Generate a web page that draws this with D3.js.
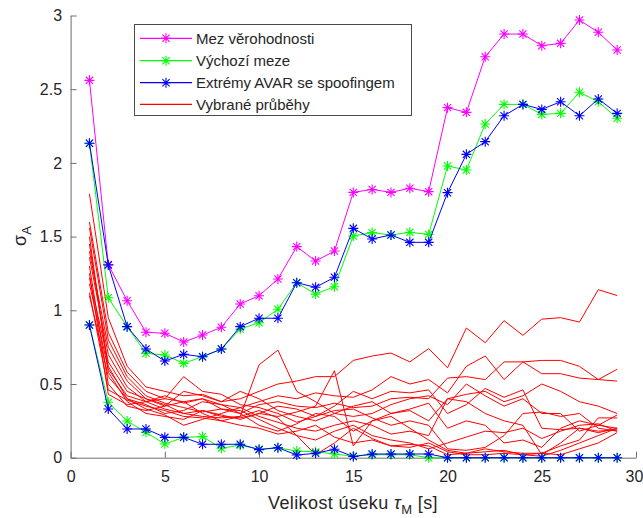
<!DOCTYPE html>
<html>
<head>
<meta charset="utf-8">
<script src="https://cdn.jsdelivr.net/npm/d3@7"></script>
<style>
  html, body { margin: 0; padding: 0; background: #fff; }
  svg { display: block; font-family: "Liberation Sans", Arial, Helvetica, sans-serif; }
</style>
</head>
<body>
<svg id="chart" width="643" height="518"></svg>
<script>
// Segment length tau_M [s]
const segLen = d3.range(1, 30);

// Likelihood bound (magenta)
const likelihoodBound = [2.56, 1.31, 1.065, 0.851, 0.844, 0.785, 0.832, 0.885, 1.043, 1.099,
  1.212, 1.432, 1.334, 1.402, 1.80, 1.82, 1.80, 1.828, 1.805, 2.375,
  2.343, 2.72, 2.874, 2.874, 2.795, 2.811, 2.969, 2.886, 2.766];

// Default bounds (green), upper and lower
const defaultUpper = [2.133, 1.085, 0.889, 0.708, 0.697, 0.640, 0.685, 0.737, 0.873, 0.916,
  1.007, 1.187, 1.11, 1.16, 1.504, 1.527, 1.511, 1.529, 1.515, 1.979,
  1.952, 2.264, 2.397, 2.397, 2.329, 2.336, 2.479, 2.415, 2.303];
const defaultLower = [0.90, 0.376, 0.249, 0.172, 0.093, 0.138, 0.143, 0.064, 0.085, 0.057,
  0.068, 0.045, 0.04, 0.025, 0.01, 0.02, 0.02, 0.02, 0.0, 0.0,
  0.0, 0.0, 0.0, 0.0, 0.0, 0.0, 0.0, 0.0, 0.0];

// AVAR extremes with spoofing (blue), upper and lower
const spoofUpper = [2.133, 1.307, 0.889, 0.737, 0.656, 0.701, 0.685, 0.737, 0.889, 0.946,
  0.946, 1.187, 1.156, 1.224, 1.556, 1.484, 1.511, 1.461, 1.461, 1.798,
  2.058, 2.144, 2.32, 2.397, 2.363, 2.415, 2.32, 2.434, 2.336];
const spoofLower = [0.90, 0.33, 0.195, 0.195, 0.138, 0.138, 0.091, 0.091, 0.091, 0.055,
  0.068, 0.018, 0.03, 0.057, 0.008, 0.025, 0.025, 0.025, 0.025, 0.0,
  0.0, 0.0, 0.0, 0.0, 0.0, 0.0, 0.0, 0.0, 0.0];

// Selected individual runs (red)
const selectedRuns = [
  [1.79, 0.95, 0.62, 0.48, 0.45, 0.42, 0.43, 0.38, 0.40, 0.45, 0.50, 0.52, 0.55, 0.55, 0.66, 0.69, 0.71, 0.65, 0.74, 0.61, 0.88, 0.78, 0.93, 0.83, 0.94, 0.95, 0.92, 1.14, 1.10],
  [1.60, 0.85, 0.58, 0.45, 0.40, 0.38, 0.40, 0.36, 0.34, 0.38, 0.42, 0.40, 0.44, 0.42, 0.41, 0.46, 0.55, 0.50, 0.53, 0.44, 0.62, 0.69, 0.53, 0.65, 0.66, 0.66, 0.62, 0.53, 0.60],
  [1.56, 0.80, 0.55, 0.42, 0.37, 0.34, 0.31, 0.33, 0.30, 0.36, 0.38, 0.35, 0.34, 0.37, 0.34, 0.35, 0.40, 0.41, 0.40, 0.54, 0.55, 0.53, 0.65, 0.65, 0.57, 0.57, 0.54, 0.53, 0.52],
  [1.40, 0.75, 0.52, 0.40, 0.36, 0.30, 0.28, 0.27, 0.28, 0.63, 0.73, 0.45, 0.38, 0.30, 0.35, 0.38, 0.30, 0.33, 0.37, 0.20, 0.25, 0.22, 0.10, 0.12, 0.07, 0.20, 0.25, 0.22, 0.20],
  [1.36, 0.70, 0.48, 0.38, 0.33, 0.30, 0.32, 0.29, 0.26, 0.30, 0.28, 0.31, 0.35, 0.59, 0.08, 0.25, 0.28, 0.20, 0.12, 0.05, 0.03, 0.04, 0.05, 0.02, 0.01, 0.05, 0.10, 0.15, 0.20],
  [1.22, 0.65, 0.45, 0.40, 0.35, 0.45, 0.42, 0.38, 0.45, 0.40, 0.32, 0.28, 0.25, 0.30, 0.28, 0.30, 0.36, 0.40, 0.42, 0.36, 0.50, 0.42, 0.35, 0.40, 0.30, 0.30, 0.18, 0.22, 0.29],
  [1.18, 0.60, 0.42, 0.38, 0.40, 0.55, 0.45, 0.43, 0.36, 0.34, 0.30, 0.24, 0.28, 0.35, 0.45, 0.40, 0.45, 0.44, 0.46, 0.30, 0.36, 0.47, 0.41, 0.46, 0.20, 0.19, 0.20, 0.18, 0.19],
  [1.10, 0.55, 0.40, 0.36, 0.30, 0.32, 0.38, 0.36, 0.30, 0.22, 0.18, 0.23, 0.30, 0.28, 0.18, 0.25, 0.30, 0.32, 0.25, 0.40, 0.43, 0.45, 0.38, 0.42, 0.50, 0.45, 0.38, 0.35, 0.30],
  [1.50, 0.58, 0.38, 0.30, 0.28, 0.26, 0.32, 0.28, 0.27, 0.30, 0.35, 0.33, 0.28, 0.32, 0.33, 0.27, 0.22, 0.25, 0.22, 0.06, 0.05, 0.07, 0.15, 0.30, 0.31, 0.28, 0.30, 0.20, 0.18],
  [1.45, 0.62, 0.40, 0.33, 0.29, 0.22, 0.26, 0.30, 0.34, 0.28, 0.24, 0.20, 0.18, 0.22, 0.25, 0.22, 0.16, 0.18, 0.15, 0.40, 0.38, 0.30, 0.25, 0.22, 0.02, 0.10, 0.20, 0.17, 0.20],
  [1.30, 0.50, 0.35, 0.32, 0.35, 0.38, 0.30, 0.25, 0.28, 0.32, 0.27, 0.15, 0.12, 0.18, 0.22, 0.15, 0.12, 0.10, 0.06, 0.10, 0.14, 0.18, 0.17, 0.20, 0.13, 0.18, 0.22, 0.23, 0.18],
  [1.25, 0.43, 0.36, 0.38, 0.42, 0.37, 0.40, 0.33, 0.32, 0.26, 0.20, 0.15, 0.02, 0.10, 0.20, 0.13, 0.08, 0.07, 0.10, 0.04, 0.02, 0.02, 0.03, 0.02, 0.03, 0.02, 0.06, 0.10, 0.17],
  [1.12, 0.46, 0.39, 0.35, 0.32, 0.28, 0.27, 0.25, 0.22, 0.20, 0.16, 0.18, 0.22, 0.14, 0.10, 0.12, 0.08, 0.09, 0.08, 0.02, 0.03, 0.06, 0.04, 0.03, 0.03, 0.08, 0.12, 0.27, 0.27]
];

// Axis ticks and labels
const xTicks = [0, 5, 10, 15, 20, 25, 30];
const xTickLabels = ["0", "5", "10", "15", "20", "25", "30"];
const yTicks = [0, 0.5, 1, 1.5, 2, 2.5, 3];
const yTickLabels = ["0", "0.5", "1", "1.5", "2", "2.5", "3"];

// Legend entries
const legendLabels = ["Mez věrohodnosti", "Výchozí meze", "Extrémy AVAR se spoofingem", "Vybrané průběhy"];
const legendColors = ["#ff00ff", "#00ff00", "#0000ff", "#ff0000"];
const legendMarkers = [true, true, true, false];

const svg = d3.select("#chart");
const plot = { left: 70.6, right: 636, top: 15.5, bottom: 457.7 };
const textColor = "#262626";
const axisColor = "#6e6e6e";

const x = d3.scaleLinear().domain([0, 30]).range([plot.left, plot.right]);
const y = d3.scaleLinear().domain([0, 3]).range([plot.bottom, plot.top]);

// Axes (ticks point into the plot area)
const xAxis = d3.axisBottom(x)
  .tickValues(xTicks)
  .tickFormat((d, i) => xTickLabels[i])
  .tickSizeInner(-6).tickSizeOuter(0).tickPadding(13.2);
const gx = svg.append("g").attr("transform", `translate(0,${plot.bottom})`).call(xAxis);

const yAxis = d3.axisLeft(y)
  .tickValues(yTicks)
  .tickFormat((d, i) => yTickLabels[i])
  .tickSizeInner(-6).tickSizeOuter(0).tickPadding(8.5);
const gy = svg.append("g").attr("transform", `translate(${plot.left},0)`).call(yAxis);

[gx, gy].forEach(g => {
  g.select(".domain").attr("stroke", axisColor).attr("stroke-width", 1);
  g.selectAll(".tick line").attr("stroke", axisColor).attr("stroke-width", 1);
  g.selectAll(".tick text").attr("fill", textColor)
    .style("font-size", "16px")
    .style("font-family", "'Liberation Sans', Arial, sans-serif");
});
// keep the last x label inside the canvas
gx.selectAll(".tick text").filter((d, i) => i === xTicks.length - 1).attr("dx", -2);

// Asterisk marker ('+' combined with 'x')
const r = 5, d = 3.6;
const starPath = `M0,${-r}V${r}M${-r},0H${r}M${-d},${-d}L${d},${d}M${-d},${d}L${d},${-d}`;

const line = d3.line().x((v, i) => x(segLen[i])).y(v => y(v));

function drawSeries(values, color, withMarkers) {
  const g = svg.append("g");
  g.append("path").datum(values)
    .attr("d", line)
    .attr("fill", "none")
    .attr("stroke", color)
    .attr("stroke-width", 1)
    .attr("stroke-linejoin", "round");
  if (withMarkers) {
    g.selectAll("path.m").data(values).join("path")
      .attr("class", "m")
      .attr("d", starPath)
      .attr("transform", (v, i) => `translate(${x(segLen[i])},${y(v)})`)
      .attr("fill", "none")
      .attr("stroke", color)
      .attr("stroke-width", 1.1);
  }
}

selectedRuns.forEach(run => drawSeries(run, "#ff0000", false));
drawSeries(likelihoodBound, "#ff00ff", true);
drawSeries(defaultUpper, "#00ff00", true);
drawSeries(defaultLower, "#00ff00", true);
drawSeries(spoofUpper, "#0000ff", true);
drawSeries(spoofLower, "#0000ff", true);

// Axis titles
const xTitle = svg.append("text")
  .attr("x", 353).attr("y", 509)
  .attr("text-anchor", "middle")
  .attr("fill", textColor)
  .style("font-size", "18px")
  .style("letter-spacing", "0.4px");
xTitle.append("tspan").text("Velikost úseku ");
xTitle.append("tspan").style("font-style", "italic").text("τ");
xTitle.append("tspan").attr("dy", 5).style("font-size", "13px").text("M");
xTitle.append("tspan").attr("dy", -5).text(" [s]");

const yTitle = svg.append("text")
  .attr("transform", "translate(26,236) rotate(-90)")
  .attr("text-anchor", "middle")
  .attr("fill", textColor)
  .style("font-size", "18px");
yTitle.append("tspan").text("σ");
yTitle.append("tspan").attr("dy", 5).style("font-size", "13px").text("A");

// Legend
const legend = svg.append("g");
legend.append("rect")
  .attr("x", 134.5).attr("y", 24.5).attr("width", 277).attr("height", 91)
  .attr("fill", "#fff").attr("stroke", "#4a4a4a").attr("stroke-width", 1);
const rowY = [38.3, 60.7, 82.7, 104.3];
legendLabels.forEach((lab, i) => {
  const gy0 = rowY[i];
  legend.append("line")
    .attr("x1", 140).attr("x2", 192).attr("y1", gy0).attr("y2", gy0)
    .attr("stroke", legendColors[i]).attr("stroke-width", 1.2);
  if (legendMarkers[i]) {
    legend.append("path")
      .attr("d", starPath)
      .attr("transform", `translate(166,${gy0})`)
      .attr("fill", "none").attr("stroke", legendColors[i]).attr("stroke-width", 1.1);
  }
  legend.append("text")
    .attr("x", 196).attr("y", gy0 + 5.5)
    .attr("fill", textColor)
    .style("font-size", "15px")
    .text(lab);
});
</script>
</body>
</html>
